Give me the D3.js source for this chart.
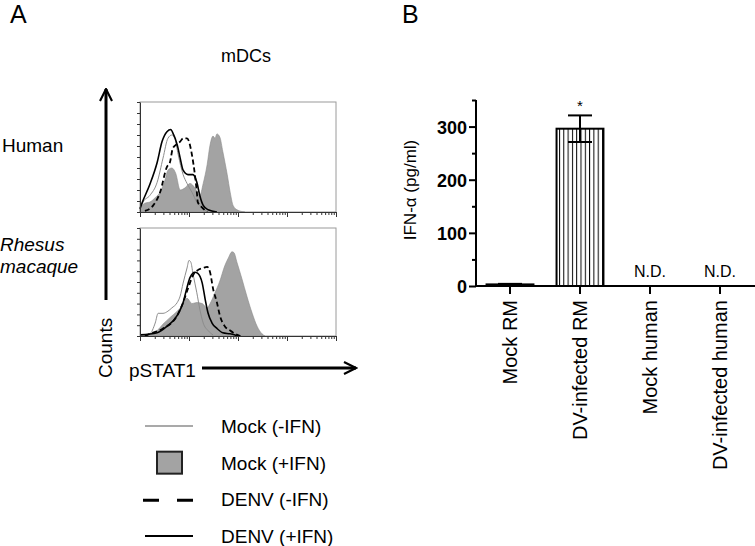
<!DOCTYPE html>
<html><head><meta charset="utf-8">
<script src="https://cdn.jsdelivr.net/npm/d3@7"></script>
<style>body{margin:0;background:#fff}svg{display:block;font-family:"Liberation Sans",Arial,Helvetica,sans-serif}</style>
</head><body><svg id="c" width="755" height="546"></svg>
<script>
// ---------------- DATA ----------------
// Panel A: flow histograms, x in log decades (0-4), y in % of max
const humanMockPlusIFN = [[0,4],[0.1,8],[0.2,9],[0.31,13],[0.41,18],[0.51,29],[0.57,38],[0.65,40],[0.73,35],[0.82,20],[0.92,22],[1.02,26],[1.12,22],[1.22,15],[1.29,26],[1.37,43],[1.43,61],[1.49,69],[1.53,67],[1.57,71],[1.63,68],[1.69,55],[1.78,34],[1.84,18],[1.9,6],[1.98,2],[2.14,0]];
const humanMockMinusIFN = [[0,3],[0.06,9],[0.2,15],[0.35,27],[0.47,49],[0.57,67],[0.65,70],[0.71,67],[0.78,52],[0.88,34],[0.96,26],[1.06,18],[1.16,9],[1.27,4],[1.37,0]];
const humanDenvMinusIFN = [[0.1,1],[0.27,6],[0.41,18],[0.55,41],[0.61,45],[0.67,58],[0.76,62],[0.82,64],[0.88,67],[0.96,67],[1.0,64],[1.06,52],[1.12,34],[1.16,18],[1.18,9],[1.27,4],[1.37,0]];
const humanDenvPlusIFN = [[0,3],[0.04,8],[0.2,25],[0.35,45],[0.45,64],[0.55,73],[0.63,75],[0.67,72],[0.76,61],[0.82,49],[0.88,38],[0.98,34],[1.08,34],[1.16,27],[1.22,15],[1.29,6],[1.39,2],[1.57,0]];

const rhesusMockPlusIFN = [[0,0],[0.2,2],[0.35,5],[0.47,11],[0.61,17],[0.76,23],[0.86,28],[0.96,35],[1.06,30],[1.16,31],[1.27,30],[1.37,26],[1.43,30],[1.53,40],[1.63,51],[1.73,65],[1.8,72],[1.88,78],[1.92,77],[1.98,68],[2.08,53],[2.18,37],[2.29,21],[2.39,9],[2.49,2],[2.55,0]];
const rhesusMockMinusIFN = [[0,0],[0.2,2],[0.31,12],[0.37,21],[0.47,21],[0.57,23],[0.65,26],[0.76,31],[0.82,37],[0.88,49],[0.96,63],[1.0,70],[1.04,68],[1.08,58],[1.16,40],[1.22,25],[1.29,12],[1.39,5],[1.49,1]];
const rhesusDenvMinusIFN = [[0.1,0],[0.2,2],[0.47,7],[0.76,19],[0.88,31],[0.98,44],[1.08,56],[1.18,61],[1.29,63],[1.37,64],[1.43,59],[1.49,44],[1.57,31],[1.63,19],[1.73,9],[1.84,5],[1.94,2],[2.05,0]];
const rhesusDenvPlusIFN = [[0,1],[0.35,3],[0.55,9],[0.76,19],[0.88,31],[0.96,45],[1.02,54],[1.12,59],[1.18,58],[1.27,49],[1.33,34],[1.39,21],[1.47,12],[1.57,7],[1.69,3],[1.84,2],[2.0,0]];

const legendLabels = ["Mock (-IFN)", "Mock (+IFN)", "DENV (-IFN)", "DENV (+IFN)"];

// Panel B: bar chart
const categories = ["Mock RM", "DV-infected RM", "Mock human", "DV-infected human"];
const ifnValues = [3, 296, null, null];
const ifnErrors = [1, 25, null, null];
const barNotes = ["", "*", "N.D.", "N.D."];
const yMajorTicks = [0, 100, 200, 300];
const yMinorTicks = [50, 150, 250, 350];

// ---------------- DRAW ----------------
const svg = d3.select("#c");
const black = "#000";

// Panel labels
svg.append("text").attr("x", 10).attr("y", 23).attr("font-size", 25).text("A");
svg.append("text").attr("x", 402).attr("y", 23).attr("font-size", 25).text("B");
svg.append("text").attr("x", 246).attr("y", 62).attr("font-size", 18).attr("text-anchor", "middle").text("mDCs");

// arrowhead marker
const defs = svg.append("defs");
defs.append("marker").attr("id", "arr").attr("viewBox", "0 0 10 10").attr("refX", 9).attr("refY", 5)
  .attr("markerWidth", 5).attr("markerHeight", 5).attr("markerUnits", "strokeWidth").attr("orient", "auto")
  .append("path").attr("d", "M1,1 L9,5 L1,9").attr("fill", "none").attr("stroke", black).attr("stroke-width", 1.4);
const pat = defs.append("pattern").attr("id", "stripes").attr("patternUnits", "userSpaceOnUse")
  .attr("width", 4.3).attr("height", 10);
pat.append("rect").attr("width", 4.3).attr("height", 10).attr("fill", "#fff");
pat.append("line").attr("x1", 0.5).attr("x2", 0.5).attr("y1", 0).attr("y2", 10).attr("stroke", black).attr("stroke-width", 1);

// Counts / pSTAT1 arrows
svg.append("line").attr("x1", 106).attr("y1", 300).attr("x2", 106).attr("y2", 89)
  .attr("stroke", black).attr("stroke-width", 3).attr("marker-end", "url(#arr)");
svg.append("line").attr("x1", 202).attr("y1", 368).attr("x2", 356).attr("y2", 368)
  .attr("stroke", black).attr("stroke-width", 3).attr("marker-end", "url(#arr)");
svg.append("text").attr("transform", "translate(112,378) rotate(-90)").attr("font-size", 19).text("Counts");
svg.append("text").attr("x", 129).attr("y", 377).attr("font-size", 19).text("pSTAT1");

// Row labels
svg.append("text").attr("x", 2).attr("y", 152).attr("font-size", 19).text("Human");
svg.append("text").attr("x", 0).attr("y", 251).attr("font-size", 19).attr("font-style", "italic").text("Rhesus");
svg.append("text").attr("x", 0).attr("y", 273).attr("font-size", 19).attr("font-style", "italic").text("macaque");

function drawHist(top, bottom, fillData, thinData, dashData, solidData) {
  const x = d3.scaleLinear().domain([0, 4]).range([140, 336]);
  const y = d3.scaleLinear().domain([0, 100]).range([bottom, top]);
  const g = svg.append("g");
  g.append("rect").attr("x", 140).attr("y", top).attr("width", 196).attr("height", bottom - top)
    .attr("fill", "#fff").attr("stroke", "#9a9a9a").attr("stroke-width", 1);
  const area = d3.area().x(d => x(d[0])).y0(y(0)).y1(d => y(d[1])).curve(d3.curveMonotoneX);
  const line = d3.line().x(d => x(d[0])).y(d => y(d[1])).curve(d3.curveMonotoneX);
  g.append("path").attr("d", area(fillData)).attr("fill", "#a3a3a3").attr("stroke", "#8a8a8a").attr("stroke-width", 0.6);
  g.append("path").attr("d", line(thinData)).attr("fill", "none").attr("stroke", "#8c8c8c").attr("stroke-width", 1);
  g.append("path").attr("d", line(dashData)).attr("fill", "none").attr("stroke", black).attr("stroke-width", 1.8).attr("stroke-dasharray", "5,3");
  g.append("path").attr("d", line(solidData)).attr("fill", "none").attr("stroke", black).attr("stroke-width", 1.6);
  // axes
  const minor = [];
  for (let dcd = 0; dcd < 4; dcd++) for (let k = 2; k <= 9; k++) minor.push(dcd + Math.log10(k));
  const ax1 = g.append("g").attr("transform", `translate(0,${bottom})`)
    .call(d3.axisBottom(x).tickValues(minor).tickSize(3).tickSizeOuter(0).tickFormat(""));
  const ax2 = g.append("g").attr("transform", `translate(0,${bottom})`)
    .call(d3.axisBottom(x).tickValues([0, 1, 2, 3, 4]).tickSize(5).tickSizeOuter(0).tickFormat(""));
  const ay = g.append("g").attr("transform", "translate(140,0)")
    .call(d3.axisLeft(y).tickValues(d3.range(0, 101, 10)).tickSize(3).tickSizeOuter(0).tickFormat(""));
  [ax1, ax2, ay].forEach(a => { a.selectAll("path,line").attr("stroke", "#333"); });
}
drawHist(102, 212, humanMockPlusIFN, humanMockMinusIFN, humanDenvMinusIFN, humanDenvPlusIFN);
drawHist(228, 336, rhesusMockPlusIFN, rhesusMockMinusIFN, rhesusDenvMinusIFN, rhesusDenvPlusIFN);

// Legend
const ly = d3.scalePoint().domain(legendLabels).range([426, 536]);
const lg = svg.append("g");
legendLabels.forEach((lab, i) => {
  const cy = ly(lab);
  if (i === 0) lg.append("line").attr("x1", 145).attr("x2", 193).attr("y1", cy).attr("y2", cy).attr("stroke", "#8c8c8c").attr("stroke-width", 1.5);
  if (i === 1) lg.append("rect").attr("x", 157).attr("y", cy - 11).attr("width", 25).attr("height", 22).attr("fill", "#a3a3a3").attr("stroke", "#222").attr("stroke-width", 2);
  if (i === 2) lg.append("line").attr("x1", 143).attr("x2", 193).attr("y1", cy + 1).attr("y2", cy + 1).attr("stroke", black).attr("stroke-width", 3).attr("stroke-dasharray", "16,18");
  if (i === 3) lg.append("line").attr("x1", 145).attr("x2", 193).attr("y1", cy).attr("y2", cy).attr("stroke", black).attr("stroke-width", 2);
  lg.append("text").attr("x", 221).attr("y", cy + 7).attr("font-size", 19).text(lab);
});

// Panel B
const xb = d3.scaleBand().domain(categories).range([475, 755]).paddingInner(0.33).paddingOuter(0.165);
const yb = d3.scaleLinear().domain([0, 350]).range([286, 100]);
const gb = svg.append("g");
const yAxMaj = gb.append("g").attr("transform", "translate(476,0)")
  .call(d3.axisLeft(yb).tickValues(yMajorTicks).tickSize(7).tickPadding(2).tickSizeOuter(0));
const yAxMin = gb.append("g").attr("transform", "translate(476,0)")
  .call(d3.axisLeft(yb).tickValues(yMinorTicks).tickSize(4).tickSizeOuter(0).tickFormat(""));
[yAxMaj, yAxMin].forEach(a => { a.selectAll("path,line").attr("stroke", black).attr("stroke-width", 2); });
yAxMaj.selectAll("text").attr("font-size", 18).attr("font-weight", "bold").attr("font-family", "Liberation Sans, Arial, sans-serif").attr("dy", "0.36em");
yAxMin.select("path").remove();
yAxMaj.select("path").attr("d", "M0,100V287");

const xAx = gb.append("g").attr("transform", "translate(0,286)")
  .call(d3.axisBottom(xb).tickSize(8).tickSizeOuter(0).tickFormat(""));
xAx.selectAll("path,line").attr("stroke", black).attr("stroke-width", 2);
xAx.select("path").attr("d", "M475,0H755");

categories.forEach((c, i) => {
  const cx = xb(c) + xb.bandwidth() / 2;
  gb.append("text").attr("transform", `translate(${cx + 7},300) rotate(-90)`).attr("text-anchor", "end")
    .attr("font-size", 20).text(c);
  const v = ifnValues[i];
  if (v != null) {
    gb.append("rect").attr("x", xb(c)).attr("y", yb(v)).attr("width", xb.bandwidth()).attr("height", yb(0) - yb(v))
      .attr("fill", "url(#stripes)").attr("stroke", black).attr("stroke-width", 2);
    const e = ifnErrors[i];
    gb.append("line").attr("x1", cx).attr("x2", cx).attr("y1", yb(v - e)).attr("y2", yb(v + e)).attr("stroke", black).attr("stroke-width", 2);
    [v - e, v + e].forEach(t => gb.append("line").attr("x1", cx - 12).attr("x2", cx + 12).attr("y1", yb(t)).attr("y2", yb(t)).attr("stroke", black).attr("stroke-width", 2));
  }
  const note = barNotes[i];
  if (note === "*") {
    gb.append("text").attr("x", cx).attr("y", yb(ifnValues[i] + ifnErrors[i]) - 4).attr("text-anchor", "middle").attr("font-size", 15).text(note);
  } else if (note) {
    gb.append("text").attr("x", cx).attr("y", yb(0) - 9).attr("text-anchor", "middle").attr("font-size", 16).text(note);
  }
});
gb.append("text").attr("transform", "translate(416,190) rotate(-90)").attr("text-anchor", "middle")
  .attr("font-size", 17).text("IFN-α (pg/ml)");
</script></body></html>
